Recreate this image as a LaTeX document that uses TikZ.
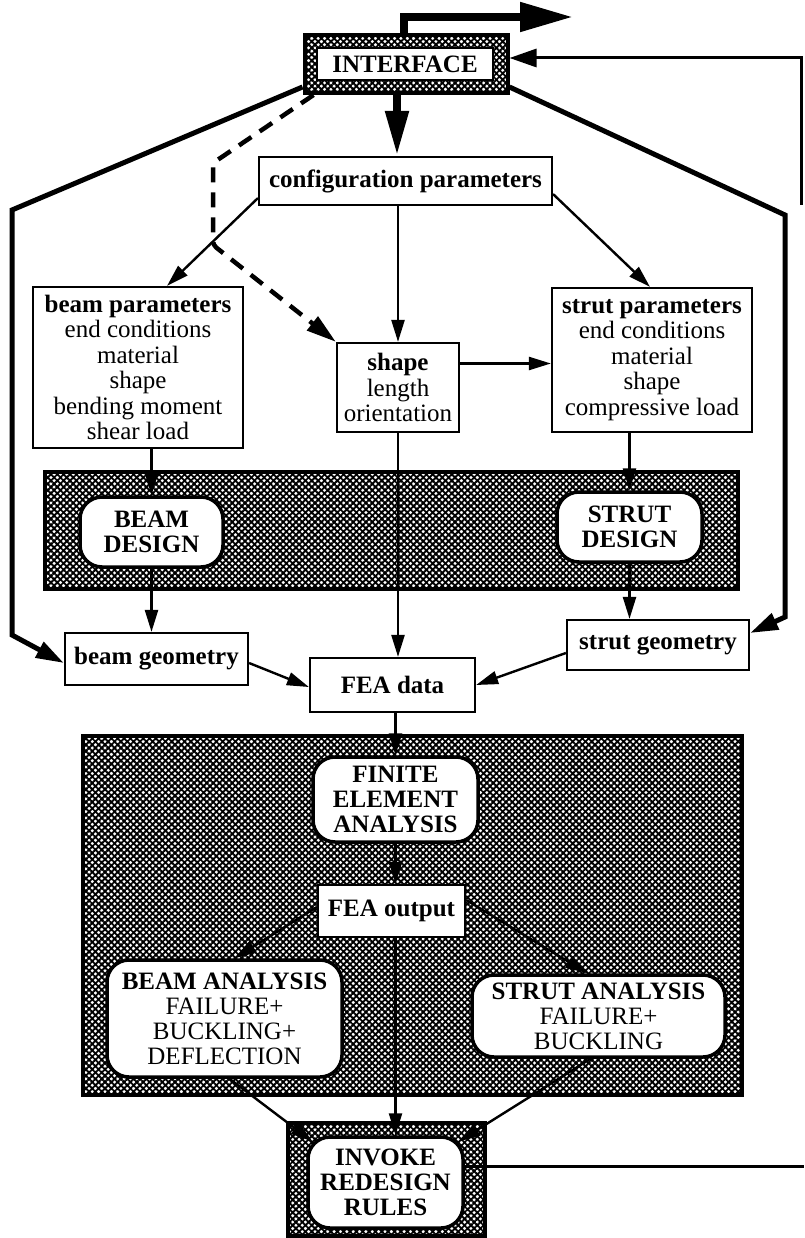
\documentclass[tikz,border=0pt]{standalone}
\usepackage{fontspec}
\setmainfont{Liberation Serif}
\usetikzlibrary{arrows.meta}
\usetikzlibrary{patterns.meta}

\begin{document}
\begin{tikzpicture}[x=1pt, y=-1pt, font=\fontsize{25}{25.5}\selectfont,
    databox/.style={draw, line width=2.2pt, fill=white, inner sep=2pt, align=center},
    capsule/.style={draw, line width=3.5pt, fill=white, rounded corners=22pt, inner sep=2pt,
      align=center, font=\fontsize{25}{25}\selectfont\bfseries},
    hatchframe/.style={draw, line width=4pt, fill=white,
      postaction={pattern={Lines[angle=45, distance=4.5pt, line width=1.9pt]}},
      postaction={pattern={Lines[angle=-45, distance=4.5pt, line width=1.9pt]}}},
    flow/.style={line width=2.4pt, -{Triangle[length=22pt, width=13pt]}},
    heavyflow/.style={line width=5pt, -{Triangle[length=28pt, width=17pt]}},
    dashflow/.style={line width=4.5pt, dash pattern=on 15pt off 10pt, -{Triangle[length=30pt, width=17pt]}},
    bigflow/.style={line width=8pt, -{Triangle[length=45pt, width=22pt]}},
    loopline/.style={line width=3pt}]
    \useasboundingbox (0,0) rectangle (804,1238);

    % interface
    \node[hatchframe, minimum width=203pt, minimum height=58pt] (ifaceframe) at (406,64) {};
    \node[databox, minimum width=176pt, minimum height=32pt, inner sep=0pt,
      font=\fontsize{25}{25}\selectfont\bfseries] (iface) at (405,64) {INTERFACE};

    % parameter boxes
    \node[databox, minimum width=293pt, minimum height=48pt] (config) at (405.5,181) {\textbf{configuration parameters}};
    \node[databox, minimum width=210pt, minimum height=161pt] (beampar) at (138,367.5)
      {\textbf{beam parameters}\\end conditions\\material\\shape\\bending moment\\shear load};
    \node[databox, minimum width=122pt, minimum height=89pt] (shape) at (398,387.5)
      {\textbf{shape}\\length\\orientation};
    \node[databox, minimum width=200pt, minimum height=144pt] (strutpar) at (652,360)
      {\textbf{strut parameters}\\end conditions\\material\\shape\\compressive load};

    % design stage
    \node[hatchframe, minimum width=693pt, minimum height=117pt] (designband) at (391.5,530.5) {};
    \node[capsule, minimum width=143pt, minimum height=70pt] (beamdes) at (151.5,532) {BEAM\\DESIGN};
    \node[capsule, minimum width=145pt, minimum height=70pt] (strutdes) at (629.5,527) {STRUT\\DESIGN};

    \node[databox, minimum width=183pt, minimum height=52pt] (beamgeo) at (156.5,659) {\textbf{beam geometry}};
    \node[databox, minimum width=182pt, minimum height=50pt] (strutgeo) at (658,645) {\textbf{strut geometry}};
    \node[databox, minimum width=165pt, minimum height=54pt] (feadata) at (392.5,685) {\textbf{FEA data}};

    % analysis stage
    \node[hatchframe, minimum width=659pt, minimum height=359pt] (analysisband) at (412.5,915.5) {};
    \node[capsule, minimum width=165pt, minimum height=85pt] (fea) at (395.5,799.5) {FINITE\\ELEMENT\\ANALYSIS};
    \node[databox, minimum width=147pt, minimum height=52pt] (feaout) at (391.5,911) {\textbf{FEA output}};
    \node[capsule, minimum width=235pt, minimum height=117pt] (beamana) at (224.5,1018.5)
      {BEAM ANALYSIS\\\textmd{FAILURE+}\\\textmd{BUCKLING+}\\\textmd{DEFLECTION}};
    \node[capsule, minimum width=253pt, minimum height=82pt] (strutana) at (598.5,1016)
      {STRUT ANALYSIS\\\textmd{FAILURE+}\\\textmd{BUCKLING}};

    \node[hatchframe, minimum width=197pt, minimum height=113pt] (invokeframe) at (386.5,1179.5) {};
    \node[capsule, minimum width=155pt, minimum height=91pt] (invoke) at (385.5,1182.5) {INVOKE\\REDESIGN\\RULES};

    % bends of the long connectors
    \coordinate (exit) at (573,17);
    \coordinate (lbend) at (12,210);
    \coordinate (lfoot) at (12,635);
    \coordinate (rbend) at (785,215);
    \coordinate (rfoot) at (785,617);
    \coordinate (dbend) at (213,163);
    \coordinate (dfoot) at (213,245);
    \coordinate (retlow) at (804,1166);
    \coordinate (rethigh) at (801,205);
    \coordinate (rettop) at (801,58);

    \draw[bigflow] ([xshift=-9pt]ifaceframe.south) -- ([xshift=-9pt]ifaceframe.south |- config.north);
    \draw[bigflow, -{Triangle[length=53pt, width=28pt]}] ([xshift=-2pt]ifaceframe.north) |- (exit);
    \draw[loopline, -{Triangle[length=27pt, width=18pt]}] (rethigh) -- (rettop) -- (rettop -| ifaceframe.east);
    \draw[loopline] (invoke.east |- retlow) -- (retlow);

    \draw[heavyflow] ([yshift=8pt]ifaceframe.south west) -- (lbend) -- (lfoot) -- ([yshift=-4pt]beamgeo.west);
    \draw[heavyflow] ([yshift=8pt]ifaceframe.south east) -- (rbend) -- (rfoot) -- ([yshift=12pt]strutgeo.east);
    \draw[dashflow, rounded corners=4pt] ([xshift=11pt]ifaceframe.south west) -- (dbend) -- (dfoot) -- (shape.north west);

    \draw[flow] ([yshift=8pt]config.south west) -- ([xshift=29pt]beampar.north);
    \draw[flow] ([yshift=12pt]config.south east) -- ([xshift=-2pt]strutpar.north);
    \draw[flow] (config.south -| shape.north) -- (shape.north);
    \draw[flow] ([yshift=24pt]shape.east) -- ([yshift=24pt]shape.east -| strutpar.west);

    \draw[flow] (beampar.south -| beamdes.north) -- (beamdes.north);
    \draw[flow] (beamdes.south) -- (beamdes.south |- beamgeo.north);
    \draw[flow] (strutpar.south -| strutdes.north) -- (strutdes.north);
    \draw[flow] (strutdes.south) -- (strutdes.south |- strutgeo.north);
    \draw[flow] (shape.south) -- (shape.south |- feadata.north);
    \draw[flow] ([yshift=-4pt]beamgeo.east) -- ([yshift=-2pt]feadata.west);
    \draw[flow] ([yshift=-8pt]strutgeo.west) -- (feadata.east);

    \draw[flow] (feadata.south -| fea.north) -- (fea.north);
    \draw[flow] (fea.south) -- (fea.south |- feaout.north);
    \draw[flow] ([yshift=4pt]feaout.west) -- ([xshift=10pt]beamana.north);
    \draw[flow] ([yshift=11pt]feaout.east) -- ([xshift=-11pt]strutana.north);
    \draw[flow] (feaout.south -| fea.south) -- (fea.south |- invoke.north);
    \draw[flow] ([xshift=5pt]beamana.south) -- ([xshift=6.4pt, yshift=-6.4pt]invoke.north west);
    \draw[flow] ([xshift=-8pt]strutana.south) -- ([xshift=-6.4pt, yshift=-6.4pt]invoke.north east);
\end{tikzpicture}
\end{document}
